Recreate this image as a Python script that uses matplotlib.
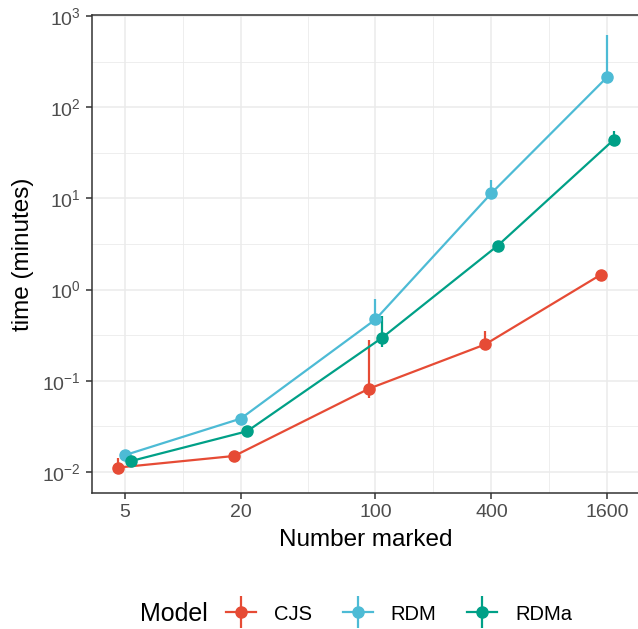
import numpy as np
import matplotlib
matplotlib.use("Agg")
import matplotlib.pyplot as plt
from matplotlib.lines import Line2D
from matplotlib.legend_handler import HandlerTuple
from matplotlib.ticker import FixedLocator, NullFormatter

# ==========================================================
# DATA
# ==========================================================

n_marked = [5, 20, 100, 400, 1600]
models = ["CJS", "RDM", "RDMa"]

cjs_time = [0.0112, 0.0150, 0.082, 0.25, 1.46]
cjs_low = [0.0100, 0.0142, 0.064, 0.22, 1.40]
cjs_high = [0.0141, 0.0158, 0.28, 0.35, 1.52]

rdm_time = [0.0153, 0.0385, 0.47, 11.4, 215]
rdm_low = [0.0145, 0.0370, 0.42, 10.0, 200]
rdm_high = [0.0170, 0.0400, 0.78, 15.7, 610]

rdma_time = [0.0132, 0.0280, 0.295, 3.04, 44]
rdma_low = [0.0125, 0.0270, 0.233, 2.90, 40]
rdma_high = [0.0140, 0.0290, 0.51, 3.20, 55]

colors = {"CJS": "#E64B35", "RDM": "#4DBBD5", "RDMa": "#00A087"}
dodge = {"CJS": -0.0334, "RDM": 0.0, "RDMa": 0.0334}

series = {
    "CJS": (cjs_time, cjs_low, cjs_high),
    "RDM": (rdm_time, rdm_low, rdm_high),
    "RDMa": (rdma_time, rdma_low, rdma_high),
}

# ==========================================================
# STYLE
# ==========================================================

plt.rcParams["font.family"] = ["Liberation Sans", "DejaVu Sans"]
plt.rcParams["mathtext.fontset"] = "custom"
plt.rcParams["mathtext.rm"] = "Liberation Sans"
plt.rcParams["mathtext.it"] = "Liberation Sans"

fig = plt.figure(figsize=(6.38, 6.29), dpi=100)
ax = fig.add_axes([92 / 638, 1 - 493 / 629, 547 / 638, 478 / 629])

# ==========================================================
# PLOT
# ==========================================================

for name in models:
    t, lo, hi = series[name]
    x = np.array(n_marked) * 10 ** dodge[name]
    ax.plot(x, t, color=colors[name], lw=1.6, zorder=3)
    ax.vlines(x, lo, hi, color=colors[name], lw=1.6, zorder=3)
    ax.plot(x, t, "o", color=colors[name], ms=8, zorder=4)

ax.set_xscale("log")
ax.set_yscale("log")
ax.set_xlim(10 ** 0.529, 10 ** 3.368)
ax.set_ylim(10 ** -2.23, 10 ** 3.01)

ax.xaxis.set_major_locator(FixedLocator(n_marked))
ax.set_xticklabels([str(v) for v in n_marked])
ax.xaxis.set_minor_locator(FixedLocator([10, np.sqrt(2000), 200, 800]))
ax.xaxis.set_minor_formatter(NullFormatter())

yt = [10.0 ** k for k in range(-2, 4)]
ax.yaxis.set_major_locator(FixedLocator(yt))
ax.set_yticklabels([r"$10^{%d}$" % k for k in range(-2, 4)])
ax.yaxis.set_minor_locator(FixedLocator([10 ** (k + 0.5) for k in range(-2, 3)]))
ax.yaxis.set_minor_formatter(NullFormatter())

ax.grid(which="major", color="#EBEBEB", lw=1.1)
ax.grid(which="minor", color="#EBEBEB", lw=0.6)
ax.set_axisbelow(True)

for s in ax.spines.values():
    s.set_color("#333333")
    s.set_linewidth(1.1)

ax.tick_params(which="major", length=4, width=1.1, color="#333333",
               labelsize=14, labelcolor="#4D4D4D", pad=4)
ax.tick_params(which="minor", length=0)

ax.set_xlabel("Number marked", fontsize=17.5, color="black", labelpad=6)
ax.set_ylabel("time (minutes)", fontsize=17.5, color="black", labelpad=6)

# ==========================================================
# LEGEND
# ==========================================================

handles = []
for name in models:
    h_line = Line2D([], [], color=colors[name], lw=1.6, marker="o", ms=8)
    v_line = Line2D([], [], color=colors[name], lw=0, marker="|", ms=23,
                    mew=1.6)
    handles.append((h_line, v_line))

fig.text(140 / 638, 1 - 614 / 629, "Model", fontsize=18, va="center",
         ha="left")

fig.legend(handles, models, handler_map={tuple: HandlerTuple(ndivide=1)},
           ncol=3, loc="center left", bbox_to_anchor=(226 / 638, 1 - 614 / 629),
           frameon=False, fontsize=14.5, handlelength=1.5, handletextpad=0.9,
           columnspacing=1.5, borderpad=0, borderaxespad=0)

fig.savefig("out.png", dpi=100)
